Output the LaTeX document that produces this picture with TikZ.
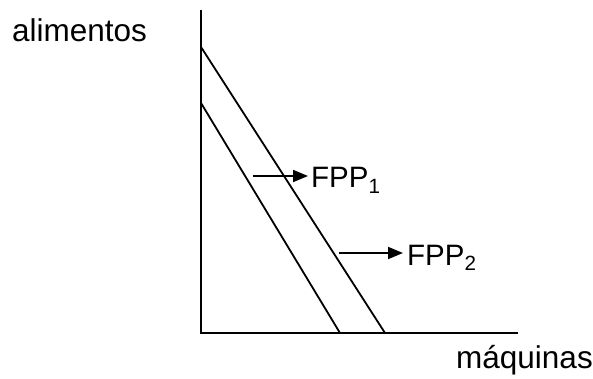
\documentclass[tikz,border=0pt]{standalone}
\usepackage{fontspec}
\setmainfont{Liberation Sans}
\usetikzlibrary{arrows.meta}
\begin{document}
\begin{tikzpicture}[x=1pt,y=-1pt,
  axis/.style={line width=2.2pt},
  curve/.style={line width=1.8pt},
  arr/.style={line width=1.8pt,-{Triangle[length=15pt,width=12pt]}},
  lbl/.style={inner sep=0pt,font=\fontsize{31.5}{36}\selectfont},
  flbl/.style={inner sep=0pt,font=\fontsize{29.5}{34}\selectfont}]
\useasboundingbox (0,0) rectangle (593,379);
\coordinate (top) at (201,10);
\coordinate (o) at (201,333);
\coordinate (right) at (518,333);
\draw[axis] (top) -- (o) -- (right);
\coordinate (p1a) at (201,103);
\coordinate (p1b) at (340,333);
\coordinate (p2a) at (201,47);
\coordinate (p2b) at (385,333);
\draw[curve] (p1a) -- (p1b);
\draw[curve] (p2a) -- (p2b);
\node[lbl,anchor=base west] (ya) at (12,42) {alimentos};
\node[lbl,anchor=base west] (xa) at (456,368) {máquinas};
\node[flbl,anchor=base west] (f1) at (311,188) {FPP\textsubscript{1}};
\node[flbl,anchor=base west] (f2) at (407,265) {FPP\textsubscript{2}};
\coordinate (s1) at (253,176);
\coordinate (s2) at (339,253);
\draw[arr] (s1) -- ([xshift=-3pt]s1 -| f1.west);
\draw[arr] (s2) -- ([xshift=-4pt]s2 -| f2.west);
\end{tikzpicture}
\end{document}
